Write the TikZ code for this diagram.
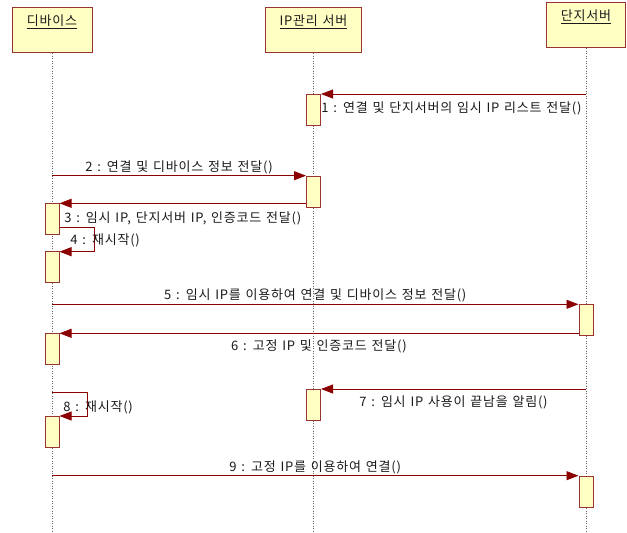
\documentclass[tikz,border=0pt]{standalone}
\usepackage{fontspec}
\setmainfont{Noto Sans CJK KR}[LetterSpace=6,WordSpace=1.3]
\usepackage{tikz}
\usetikzlibrary{arrows.meta,calc,positioning}
\definecolor{BoxFill}{HTML}{FFFFC4}
\definecolor{BoxEdge}{HTML}{993333}
\definecolor{MsgRed}{HTML}{8B0000}
\definecolor{Ink}{HTML}{1A1A1A}

\begin{document}
\begin{tikzpicture}[x=1pt,y=-1pt,
  actor/.style={draw=BoxEdge,fill=BoxFill,line width=1pt,minimum width=#1,inner xsep=0pt,inner ysep=4pt,
    text height=14pt,text depth=23pt,anchor=north,font=\fontsize{13pt}{15pt}\selectfont,text=Ink},
  lifeline/.style={draw=black!60,line width=0.6pt,dash pattern=on 1pt off 1.5pt},
  act/.style={draw=BoxEdge,fill=BoxFill,line width=1pt,minimum width=14pt,minimum height=31pt,inner sep=0pt,anchor=north},
  msg/.style={-{Triangle[length=12pt,width=9pt]},draw=MsgRed,line width=0.8pt},
  lbl/.style={font=\fontsize{13pt}{15pt}\selectfont,text=Ink,inner sep=2pt}
]
\useasboundingbox (0,0) rectangle (627,533);
\node[actor=80pt] (dev) at (52,7) {\underline{디바이스}};
\node[actor=96pt] (ip) at (313.5,7) {\underline{IP관리 서버}};
\node[actor=79pt] (srv) at (586,2) {\underline{단지서버}};
\coordinate (bot) at (0,532);
\foreach \n in {dev,ip,srv} \draw[lifeline] (\n.south) -- (\n.south |- bot);

% activations
\node[act] (a1) at (313.5,94) {};
\node[act] (a2) at (313.5,175.7) {};
\node[act] (a3) at (52,203.3) {};
\node[act] (a4) at (52,250.5) {};
\node[act] (a5) at (586,304.3) {};
\node[act] (a6) at (52,333.3) {};
\node[act] (a7) at (313.5,389) {};
\node[act] (a8) at (52,415.7) {};
\node[act] (a9) at (586,475.7) {};

% messages
\draw[msg] (srv |- a1.north) -- (a1.north east) node[lbl,below right,xshift=-2pt,yshift=-5pt] (m1) {1 : 연결 및 단지서버의 임시 IP 리스트 전달()};
\draw[msg] (dev |- a2.north) -- (a2.north west) node[lbl,above,midway,yshift=-1pt] (m2) {2 : 연결 및 디바이스 정보 전달()};
\draw[msg] (a2.west |- a3.north) -- (a3.north east) node[lbl,below,midway,yshift=-6.5pt] (m3) {3 : 임시 IP, 단지서버 IP, 인증코드 전달()};
\draw[msg] (a3.east |- 0,227.7) -- ++(35,0) |- ([yshift=-1.2pt]a4.north east) node[lbl,anchor=west] (m4) at (68,240.5) {4 : 재시작()};
\draw[msg] (dev |- a5.north) -- (a5.north west) node[lbl,above,midway,yshift=-0.5pt] (m5) {5 : 임시 IP를 이용하여 연결 및 디바이스 정보 전달()};
\draw[msg] (a5.west |- a6.north) -- (a6.north east) node[lbl,below,midway,yshift=-4.5pt] (m6) {6 : 고정 IP 및 인증코드 전달()};
\draw[msg] (srv |- a7.north) -- (a7.north east) node[lbl,below,midway,yshift=-4.5pt] (m7) {7 : 임시 IP 사용이 끝남을 알림()};
\draw[msg] (dev |- 0,392.7) -- ++(35,0) |- ([yshift=-0.3pt]a8.north east) node[lbl,anchor=west] (m8) at (61,407.8) {8 : 재시작()};
\draw[msg] (dev |- a9.north) -- (a9.north west) node[lbl,above,midway,yshift=-0.5pt] (m9) {9 : 고정 IP를 이용하여 연결()};
\end{tikzpicture}
\end{document}
